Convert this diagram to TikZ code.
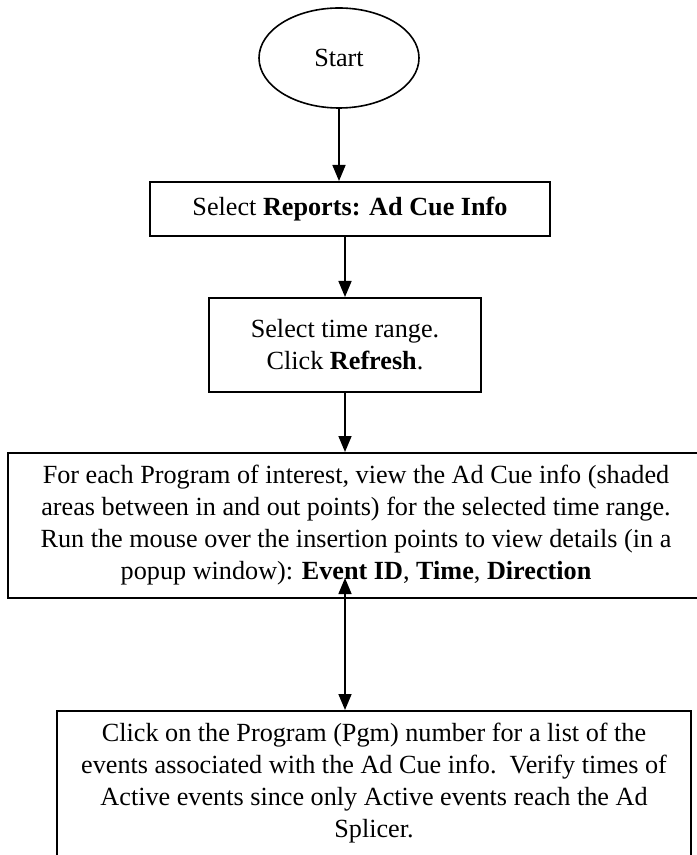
\documentclass[tikz,border=0pt]{standalone}
\usepackage{fontspec}
\setmainfont{Liberation Serif}
\usepackage{tikz}
\usetikzlibrary{shapes.geometric}
\usetikzlibrary{arrows.meta}

\begin{document}
\begin{tikzpicture}[
		x=0.5pt, y=-0.5pt,
		terminal/.style = {draw, ellipse, line width=0.8pt, minimum width=80pt, minimum height=50pt},
		stepbox/.style = {draw, rectangle, line width=1pt, align=center, inner sep=4pt},
		flow/.style = {-{Triangle[length=8pt,width=6.5pt]}, line width=0.8pt},
		every node/.style = {font=\fontsize{13.1}{16}\selectfont}
			]
		\useasboundingbox (0,0) rectangle (696,855);

		\node [terminal] (Start) at (339,58) {Start};

		\node [stepbox, minimum width=200pt, minimum height=27pt] (Reports) at (350,209)
			{Select \textbf{Reports: Ad Cue Info}};

		\node [stepbox, minimum width=136pt, minimum height=47pt] (Range) at (345,345)
			{Select time range.\\ Click \textbf{Refresh}.};

		\node [stepbox, minimum width=348pt, minimum height=72.5pt] (View) at (356,525.5)
			{For each Program of interest, view the Ad Cue info (shaded\\
			areas between in and out points) for the selected time range.\\
			Run the mouse over the insertion points to view details (in a\\
			popup window): \textbf{Event ID}, \textbf{Time}, \textbf{Direction}};

		\node [stepbox, minimum width=317pt, anchor=north, inner ysep=6pt] (Pgm) at (374,710)
			{Click on the Program (Pgm) number for a list of the\\
			events associated with the Ad Cue info.\ \ Verify times of\\
			Active events since only Active events reach the Ad\\
			Splicer.\\ \mbox{}};

		\coordinate (ViewIn) at (345,578);

		\draw [flow] (Start.south) -- (Start.south |- Reports.north);
		\draw [flow] (Reports.south -| Range.north) -- (Range.north);
		\draw [flow] (Range.south) -- (Range.south |- View.north);
		\draw [{Triangle[length=8pt,width=6.5pt]}-{Triangle[length=8pt,width=6.5pt]}, line width=0.8pt]
			(ViewIn) -- (ViewIn |- Pgm.north);

	\end{tikzpicture}
\end{document}
